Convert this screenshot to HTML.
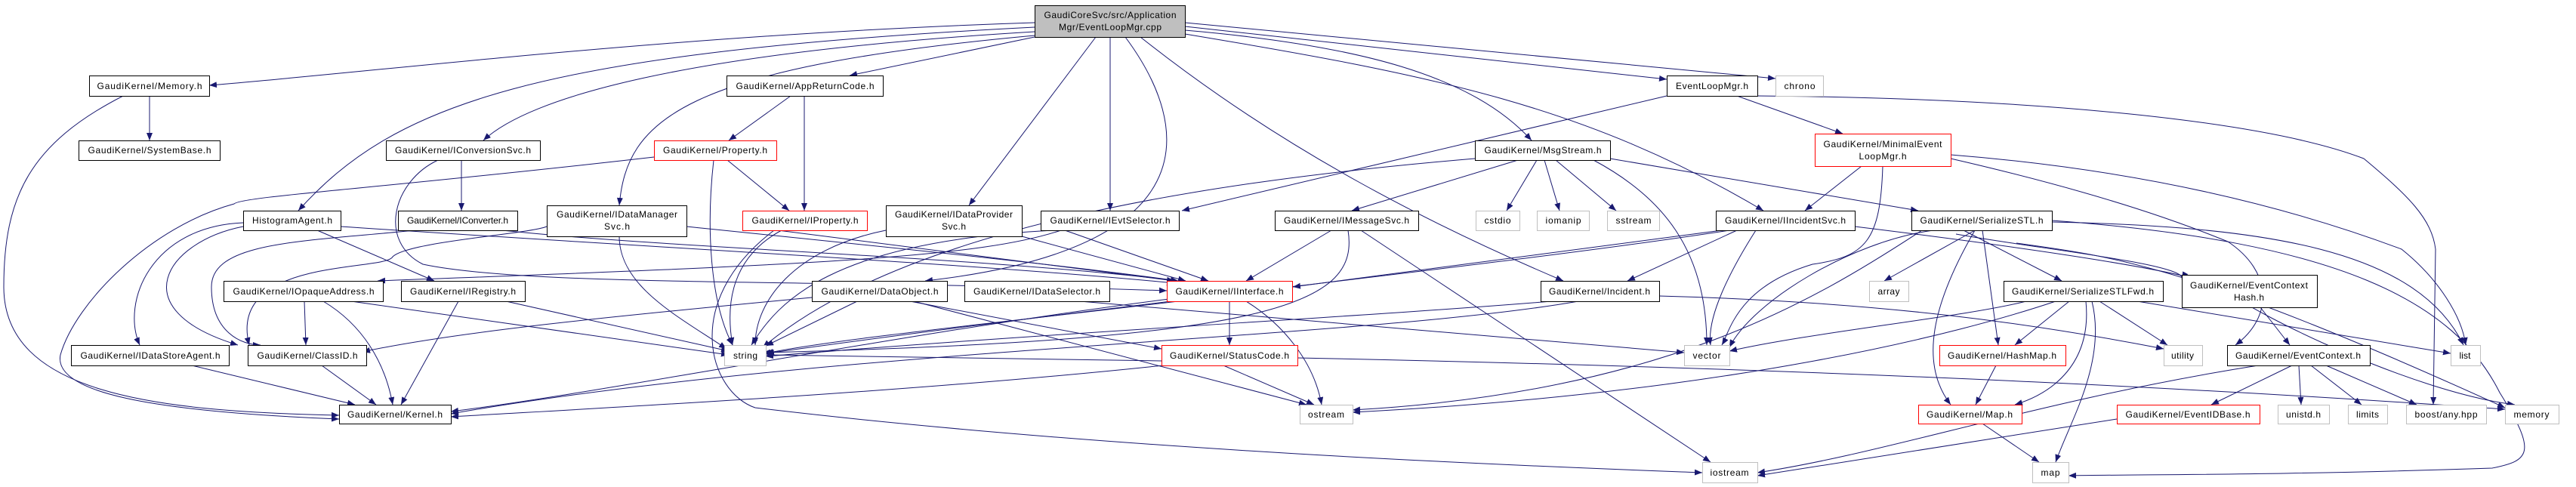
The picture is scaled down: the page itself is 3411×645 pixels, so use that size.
<!DOCTYPE html>
<html><head><meta charset="utf-8"><style>
html,body{margin:0;padding:0;background:#fff}
svg{display:block}
text{font-family:"Liberation Sans",sans-serif;font-size:12px;fill:#000}
</style></head><body>
<svg width="3411" height="645" viewBox="0 0 3411 645" xmlns="http://www.w3.org/2000/svg">
<defs><marker id="a" markerWidth="10" markerHeight="8" refX="10" refY="4" orient="auto" markerUnits="userSpaceOnUse"><path d="M0,0 L10,4 L0,8z" fill="#191970"/></marker></defs>
<g fill="none" stroke="#191970" stroke-width="1" marker-end="url(#a)">
<path d="M1370,30 C900,45 500,95 277,113"/>
<path d="M1370,36 C700,70 520,140 395,279"/>
<path d="M1370,42 C900,70 700,130 640,186"/>
<path d="M1370,47 C900,90 830,160 820,272"/>
<path d="M1370,49 L1125,100"/>
<path d="M1451,49 L1283,272"/>
<path d="M1470,49 L1470,279"/>
<path d="M1490,49 C1580,170 1600,330 1225,372"/>
<path d="M1569,40 C1800,60 1950,100 2028,186"/>
<path d="M1510,49 C1700,200 1900,300 2070,372"/>
<path d="M1569,45 C1900,100 2100,140 2335,279"/>
<path d="M1569,35 L2207,105"/>
<path d="M1569,30 L2351,104"/>
<path d="M198,113 L198,186"/>
<path d="M163,127 C40,190 5,260 5,380 C5,520 200,545 449,550"/>
<path d="M1047,127 L965,186"/>
<path d="M1065,127 L1065,279"/>
<path d="M963,212 L1045,279"/>
<path d="M945,212 C935,300 940,400 970,457"/>
<path d="M866,208 C500,250 320,260 310,270 C200,300 100,400 80,470 C70,520 200,545 449,555"/>
<path d="M611,212 L611,279"/>
<path d="M580,212 C520,240 500,320 560,350 C700,380 1100,370 1545,385"/>
<path d="M550,305 C400,320 280,320 280,380 C280,440 320,457 345,457"/>
<path d="M665,305 C900,330 1300,340 1560,372"/>
<path d="M322,295 C200,300 160,400 185,457"/>
<path d="M322,300 C220,320 160,410 315,457"/>
<path d="M420,305 L575,372"/>
<path d="M451,300 C900,330 1300,350 1555,375"/>
<path d="M724,300 C700,310 540,320 520,340 C510,360 300,340 330,457"/>
<path d="M820,313 C820,380 900,420 962,462"/>
<path d="M909,300 C1200,330 1400,350 1560,372"/>
<path d="M403,399 L405,457"/>
<path d="M428,399 C480,430 510,480 520,536"/>
<path d="M465,399 L965,470"/>
<path d="M607,399 L531,536"/>
<path d="M670,399 L965,465"/>
<path d="M254,484 L470,536"/>
<path d="M426,484 L498,536"/>
<path d="M1030,305 L1555,372"/>
<path d="M1035,305 C970,340 960,400 970,457"/>
<path d="M1025,305 C900,400 940,520 1000,540 C1500,600 2100,620 2254,626"/>
<path d="M1353,313 L1570,372"/>
<path d="M1173,305 C1050,330 1000,400 1000,457"/>
<path d="M1410,305 L1600,372"/>
<path d="M1395,305 C1100,320 1030,400 995,457"/>
<path d="M1405,305 C1300,340 1100,350 500,372"/>
<path d="M1075,394 C800,420 600,440 480,466"/>
<path d="M1135,399 L1014,458"/>
<path d="M1210,399 L1730,536"/>
<path d="M1205,399 L1538,462"/>
<path d="M1430,399 L2230,467"/>
<path d="M1628,399 L1628,457"/>
<path d="M1650,399 C1700,430 1740,480 1750,536"/>
<path d="M1560,399 C1300,430 1100,450 1014,468"/>
<path d="M1548,396 C1200,440 800,520 597,545"/>
<path d="M1620,484 L1740,536"/>
<path d="M1538,478 L1014,470"/>
<path d="M1718,474 C2500,490 3000,520 3317,542"/>
<path d="M1540,484 C1200,520 800,540 597,552"/>
<path d="M2010,212 L1790,279"/>
<path d="M2035,212 L1995,279"/>
<path d="M2045,212 L2065,279"/>
<path d="M2060,212 L2140,279"/>
<path d="M2110,212 C2200,260 2260,330 2260,457"/>
<path d="M2132,210 L2540,279"/>
<path d="M1953,210 C1600,240 1200,300 1010,460"/>
<path d="M1763,305 L1650,372"/>
<path d="M1785,305 C1800,400 1700,450 1010,467"/>
<path d="M1802,305 L2265,612"/>
<path d="M2207,127 L1565,279"/>
<path d="M2300,127 L2440,177"/>
<path d="M2327,127 C2700,130 3000,160 3130,210 C3190,260 3220,290 3225,330 L3222,536"/>
<path d="M2465,220 L2390,279"/>
<path d="M2493,220 C2490,320 2470,340 2400,350 C2300,380 2290,440 2280,457"/>
<path d="M2583,205 C2900,230 3100,300 3180,330 C3230,370 3260,420 3265,457"/>
<path d="M2583,210 C2800,260 2900,300 2950,320 C3010,360 3010,420 2960,457"/>
<path d="M2300,305 L2155,372"/>
<path d="M2280,305 L1712,380"/>
<path d="M2325,305 C2290,360 2260,420 2265,457"/>
<path d="M2290,305 C2000,350 1500,400 1015,468"/>
<path d="M2456,300 C2700,330 2900,360 2940,380 C2990,420 3200,520 3330,536"/>
<path d="M2055,399 C1800,420 1400,440 1014,472"/>
<path d="M2090,399 C1800,450 1100,460 597,548"/>
<path d="M2197,392 C2500,400 2700,430 2865,462"/>
<path d="M2600,305 L2730,372"/>
<path d="M2625,305 L2646,457"/>
<path d="M2615,305 C2560,400 2540,480 2583,536"/>
<path d="M2615,305 L2495,372"/>
<path d="M2560,305 C2450,320 2320,400 2290,460"/>
<path d="M2545,305 C2400,400 2200,520 1791,543"/>
<path d="M2717,294 C3000,300 3200,330 3262,457"/>
<path d="M2717,292 C3100,320 3250,400 3310,520 C3360,600 3350,610 3300,620 C3000,630 2850,628 2739,630"/>
<path d="M2590,310 C2700,330 2900,350 2889,370"/>
<path d="M2670,322 C2800,340 2900,350 3317,540"/>
<path d="M2740,399 L2668,457"/>
<path d="M2762,399 C2770,480 2720,520 2668,536"/>
<path d="M2770,399 C2790,480 2740,560 2722,612"/>
<path d="M2780,399 L2870,457"/>
<path d="M2830,399 L3245,468"/>
<path d="M2683,399 C2600,420 2400,440 2290,465"/>
<path d="M2722,399 C2600,440 2300,520 1791,546"/>
<path d="M2993,407 L3032,457"/>
<path d="M3035,484 L2928,536"/>
<path d="M3044,484 L3047,536"/>
<path d="M3060,484 L3127,536"/>
<path d="M3080,484 L3200,536"/>
<path d="M2990,484 C2700,530 2500,600 2327,626"/>
<path d="M2643,484 L2616,536"/>
<path d="M2625,561 L2700,612"/>
<path d="M2803,555 L2327,630"/>
</g>
<g stroke-width="1" fill="#fff">
<rect x="1370.5" y="7.5" width="199" height="42" fill="#bfbfbf" stroke="#000"/>
<rect x="118.5" y="100.5" width="159" height="27" stroke="#000"/>
<rect x="104.5" y="186.5" width="187" height="26" stroke="#000"/>
<rect x="511.5" y="186.5" width="204" height="26" stroke="#000"/>
<rect x="322.5" y="279.5" width="129" height="26" stroke="#000"/>
<rect x="527.5" y="279.5" width="158" height="26" stroke="#000"/>
<rect x="724.5" y="272.5" width="185" height="41" stroke="#000"/>
<rect x="296.5" y="372.5" width="211" height="27" stroke="#000"/>
<rect x="531.5" y="372.5" width="164" height="27" stroke="#000"/>
<rect x="94.5" y="457.5" width="209" height="27" stroke="#000"/>
<rect x="328.5" y="457.5" width="157" height="27" stroke="#000"/>
<rect x="449.5" y="536.5" width="148" height="25" stroke="#000"/>
<rect x="962.5" y="100.5" width="207" height="27" stroke="#000"/>
<rect x="866.5" y="186.5" width="162" height="26" stroke="#f00"/>
<rect x="983.5" y="279.5" width="165" height="26" stroke="#f00"/>
<rect x="1173.5" y="272.5" width="180" height="41" stroke="#000"/>
<rect x="1378.5" y="279.5" width="183" height="26" stroke="#000"/>
<rect x="1075.5" y="372.5" width="179" height="27" stroke="#000"/>
<rect x="1277.5" y="372.5" width="192" height="27" stroke="#000"/>
<rect x="1545.5" y="372.5" width="166" height="27" stroke="#f00"/>
<rect x="959.5" y="457.5" width="55" height="27" stroke="#bfbfbf"/>
<rect x="1538.5" y="457.5" width="180" height="27" stroke="#f00"/>
<rect x="1688.5" y="279.5" width="190" height="26" stroke="#000"/>
<rect x="2207.5" y="100.5" width="120" height="27" stroke="#000"/>
<rect x="2351.5" y="100.5" width="63" height="27" stroke="#bfbfbf"/>
<rect x="1953.5" y="186.5" width="179" height="26" stroke="#000"/>
<rect x="2403.5" y="177.5" width="180" height="43" stroke="#f00"/>
<rect x="1954.5" y="279.5" width="58" height="26" stroke="#bfbfbf"/>
<rect x="2035.5" y="279.5" width="69" height="26" stroke="#bfbfbf"/>
<rect x="2128.5" y="279.5" width="69" height="26" stroke="#bfbfbf"/>
<rect x="2272.5" y="279.5" width="184" height="26" stroke="#000"/>
<rect x="2531.5" y="279.5" width="186" height="26" stroke="#000"/>
<rect x="2040.5" y="372.5" width="157" height="27" stroke="#000"/>
<rect x="2475.5" y="372.5" width="52" height="27" stroke="#bfbfbf"/>
<rect x="2230.5" y="457.5" width="60" height="27" stroke="#bfbfbf"/>
<rect x="1721.5" y="536.5" width="70" height="25" stroke="#bfbfbf"/>
<rect x="2254.5" y="612.5" width="73" height="27" stroke="#bfbfbf"/>
<rect x="2540.5" y="536.5" width="137" height="25" stroke="#f00"/>
<rect x="2653.5" y="372.5" width="211" height="27" stroke="#000"/>
<rect x="2889.5" y="364.5" width="179" height="43" stroke="#000"/>
<rect x="2568.5" y="457.5" width="167" height="27" stroke="#f00"/>
<rect x="2865.5" y="457.5" width="51" height="27" stroke="#bfbfbf"/>
<rect x="2949.5" y="457.5" width="189" height="27" stroke="#000"/>
<rect x="3245.5" y="457.5" width="39" height="27" stroke="#bfbfbf"/>
<rect x="2803.5" y="536.5" width="189" height="25" stroke="#f00"/>
<rect x="3016.5" y="536.5" width="68" height="25" stroke="#bfbfbf"/>
<rect x="3109.5" y="536.5" width="52" height="25" stroke="#bfbfbf"/>
<rect x="3186.5" y="536.5" width="106" height="25" stroke="#bfbfbf"/>
<rect x="3317.5" y="536.5" width="71" height="25" stroke="#bfbfbf"/>
<rect x="2691.5" y="612.5" width="48" height="27" stroke="#bfbfbf"/>
</g>
<g text-anchor="middle" lengthAdjust="spacingAndGlyphs">
<text x="1470" y="24" textLength="175">GaudiCoreSvc/src/Application</text>
<text x="1470" y="40" textLength="136">Mgr/EventLoopMgr.cpp</text>
<text x="198" y="118" textLength="139">GaudiKernel/Memory.h</text>
<text x="198" y="203" textLength="163">GaudiKernel/SystemBase.h</text>
<text x="613" y="203" textLength="180">GaudiKernel/IConversionSvc.h</text>
<text x="387" y="296" textLength="106">HistogramAgent.h</text>
<text x="606" y="296" textLength="134">GaudiKernel/IConverter.h</text>
<text x="817" y="288" textLength="160">GaudiKernel/IDataManager</text>
<text x="817" y="304" textLength="34">Svc.h</text>
<text x="402" y="390" textLength="187">GaudiKernel/IOpaqueAddress.h</text>
<text x="613" y="390" textLength="140">GaudiKernel/IRegistry.h</text>
<text x="199" y="475" textLength="185">GaudiKernel/IDataStoreAgent.h</text>
<text x="407" y="475" textLength="133">GaudiKernel/ClassID.h</text>
<text x="523" y="553" textLength="126">GaudiKernel/Kernel.h</text>
<text x="1066" y="118" textLength="183">GaudiKernel/AppReturnCode.h</text>
<text x="947" y="203" textLength="138">GaudiKernel/Property.h</text>
<text x="1066" y="296" textLength="141">GaudiKernel/IProperty.h</text>
<text x="1263" y="288" textLength="156">GaudiKernel/IDataProvider</text>
<text x="1263" y="304" textLength="32">Svc.h</text>
<text x="1470" y="296" textLength="159">GaudiKernel/IEvtSelector.h</text>
<text x="1165" y="390" textLength="155">GaudiKernel/DataObject.h</text>
<text x="1373" y="390" textLength="168">GaudiKernel/IDataSelector.h</text>
<text x="1628" y="390" textLength="143">GaudiKernel/IInterface.h</text>
<text x="987" y="475" textLength="32">string</text>
<text x="1628" y="475" textLength="158">GaudiKernel/StatusCode.h</text>
<text x="1783" y="296" textLength="166">GaudiKernel/IMessageSvc.h</text>
<text x="2267" y="118" textLength="96">EventLoopMgr.h</text>
<text x="2383" y="118" textLength="41">chrono</text>
<text x="2043" y="203" textLength="155">GaudiKernel/MsgStream.h</text>
<text x="2493" y="195" textLength="157">GaudiKernel/MinimalEvent</text>
<text x="2493" y="211" textLength="63">LoopMgr.h</text>
<text x="1983" y="296" textLength="35">cstdio</text>
<text x="2070" y="296" textLength="47">iomanip</text>
<text x="2163" y="296" textLength="47">sstream</text>
<text x="2364" y="296" textLength="160">GaudiKernel/IIncidentSvc.h</text>
<text x="2624" y="296" textLength="163">GaudiKernel/SerializeSTL.h</text>
<text x="2118" y="390" textLength="134">GaudiKernel/Incident.h</text>
<text x="2501" y="390" textLength="29">array</text>
<text x="2260" y="475" textLength="37">vector</text>
<text x="1756" y="553" textLength="48">ostream</text>
<text x="2290" y="630" textLength="51">iostream</text>
<text x="2608" y="553" textLength="114">GaudiKernel/Map.h</text>
<text x="2758" y="390" textLength="188">GaudiKernel/SerializeSTLFwd.h</text>
<text x="2978" y="382" textLength="156">GaudiKernel/EventContext</text>
<text x="2978" y="398" textLength="40">Hash.h</text>
<text x="2651" y="475" textLength="144">GaudiKernel/HashMap.h</text>
<text x="2890" y="475" textLength="30">utility</text>
<text x="3043" y="475" textLength="166">GaudiKernel/EventContext.h</text>
<text x="3264" y="475" textLength="15">list</text>
<text x="2897" y="553" textLength="165">GaudiKernel/EventIDBase.h</text>
<text x="3050" y="553" textLength="46">unistd.h</text>
<text x="3135" y="553" textLength="30">limits</text>
<text x="3239" y="553" textLength="83">boost/any.hpp</text>
<text x="3352" y="553" textLength="47">memory</text>
<text x="2715" y="630" textLength="25">map</text>
</g>
</svg>
</body></html>
